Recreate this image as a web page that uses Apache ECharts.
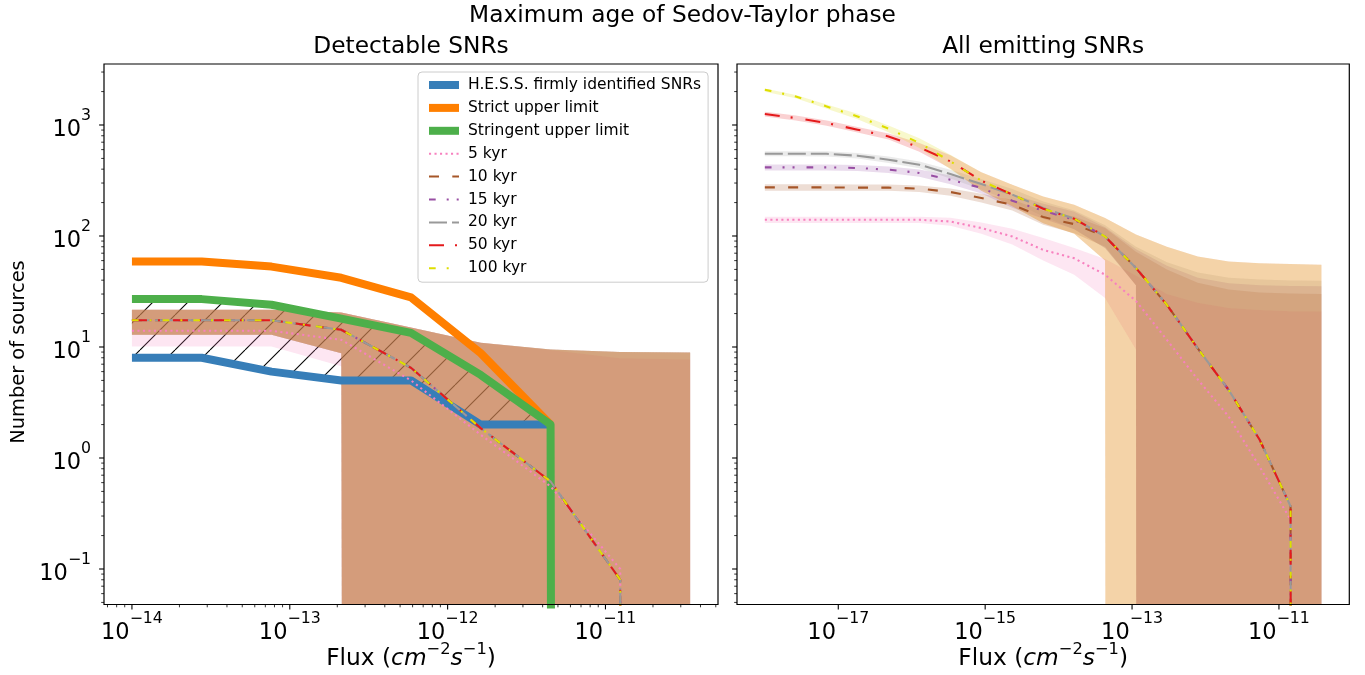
<!DOCTYPE html>
<html>
<head>
<meta charset="utf-8">
<script src="https://cdn.jsdelivr.net/npm/echarts@6/dist/echarts.min.js"></script>
<style>
  html, body { margin: 0; padding: 0; background: #ffffff; }
  #chart { width: 1365px; height: 675px; }
</style>
</head>
<body>
<div id="chart"></div>
<script>
// ---------------- data ----------------
// Flux grids (cm^-2 s^-1)
const fluxDetectable = [1.00e-14, 2.77e-14, 7.66e-14, 2.12e-13, 5.86e-13, 1.62e-12, 4.49e-12, 1.24e-11, 3.44e-11];
const fluxEmitting = [1.00e-18, 2.64e-18, 6.95e-18, 1.83e-17, 4.83e-17, 1.27e-16, 3.36e-16, 8.87e-16, 2.34e-15,
  6.17e-15, 1.63e-14, 4.29e-14, 1.13e-13, 2.98e-13, 7.85e-13, 2.07e-12, 5.46e-12, 1.44e-11, 3.79e-11];

// Observed source counts above flux (detectable panel)
const hessIdentified = [8, 8, 6, 5, 5, 2, 2];
const strictLimit = [59, 59, 53, 42, 28, 8.8, 2];
const stringentLimit = [27, 27, 24, 18, 13.4, 5.6, 2, 0];

// Simulated detectable SNRs: mean, lower and upper envelope per maximum Sedov-Taylor age
const det5 = [14.0, 14.0, 14.0, 11.6, 5.0, 1.62, 0.555, 0.10, 0];
const det5Lo = [10.1, 10.1, 10.1, 6.7, 0, 0, 0, 0, 0];
const det5Hi = [21.7, 21.7, 21.7, 20.5, 15.0, 10.9, 9.4, 7.9, 7.7];
const det10 = [17.4, 17.4, 17.4, 14.3, 6.5, 1.86, 0.615, 0.08, 0];
const det10Lo = [12.9, 12.9, 12.9, 8.8, 0, 0, 0, 0, 0];
const det10Hi = [21.7, 21.7, 21.7, 20.5, 15.0, 10.9, 9.5, 9.0, 8.9];
const det15 = [17.4, 17.4, 17.4, 14.3, 6.5, 1.86, 0.615, 0.08, 0];
const det15Lo = [12.9, 12.9, 12.9, 8.8, 0, 0, 0, 0, 0];
const det15Hi = [21.7, 21.7, 21.7, 20.5, 15.0, 10.9, 9.5, 9.0, 8.9];
const det20 = [17.4, 17.4, 17.4, 14.3, 6.5, 1.86, 0.615, 0.08, 0];
const det20Lo = [12.9, 12.9, 12.9, 8.8, 0, 0, 0, 0, 0];
const det20Hi = [21.7, 21.7, 21.7, 20.5, 15.0, 10.9, 9.5, 9.0, 8.9];
const det50 = [17.4, 17.4, 17.4, 14.3, 6.5, 1.86, 0.615, 0.08, 0];
const det50Lo = [12.9, 12.9, 12.9, 8.8, 0, 0, 0, 0, 0];
const det50Hi = [21.7, 21.7, 21.7, 20.5, 15.0, 10.9, 9.5, 9.0, 8.9];
const det100 = [17.4, 17.4, 17.4, 14.3, 6.5, 1.86, 0.615, 0.08, 0];
const det100Lo = [12.9, 12.9, 12.9, 8.8, 0, 0, 0, 0, 0];
const det100Hi = [21.7, 21.7, 21.7, 20.5, 15.0, 10.9, 9.5, 9.0, 8.9];

// Simulated emitting SNRs
const em5 = [140, 140, 140, 140, 140, 140, 135, 118, 99, 75, 63, 44.8, 26, 11.6, 5.1, 2.36, 0.835, 0.278, 0];
const em5Lo = [131, 131, 131, 131, 131, 131, 124, 105, 84, 60, 44.8, 27.6, 9.5, 0, 0, 0, 0, 0, 0];
const em5Hi = [149, 149, 149, 149, 149, 149, 146, 132, 116, 96, 78, 62, 44, 30, 25, 22.5, 21.5, 21, 20.9];
const em10 = [274, 274, 274, 273, 273, 267, 249, 220, 191, 148, 128, 99, 51.5, 24, 9.7, 4.1, 1.46, 0.367, 0];
const em10Lo = [256, 256, 256, 255, 255, 249, 230, 200, 170, 126, 106, 80, 36, 0, 0, 0, 0, 0, 0];
const em10Hi = [292, 292, 292, 291, 291, 285, 268, 240, 212, 170, 150, 118, 72, 50, 38, 33, 31, 30.3, 30];
const em15 = [415, 415, 415, 410, 396, 370, 321, 271, 208, 169, 140, 99, 51.5, 24, 9.7, 4.1, 1.46, 0.367, 0];
const em15Lo = [390, 390, 390, 385, 370, 342, 292, 242, 180, 143, 115, 78, 36, 0, 0, 0, 0, 0, 0];
const em15Hi = [440, 440, 440, 435, 422, 398, 350, 300, 238, 195, 165, 120, 76, 54, 42, 37.5, 36, 35.4, 35.2];
const em20 = [551, 551, 550, 529, 487, 439, 362, 294, 236, 179, 143, 99, 51.5, 24, 9.7, 4.1, 1.46, 0.367, 0];
const em20Lo = [522, 522, 521, 500, 455, 408, 330, 262, 205, 150, 115, 78, 36, 0, 0, 0, 0, 0, 0];
const em20Hi = [580, 580, 580, 560, 520, 470, 395, 325, 265, 205, 170, 125, 80, 58, 47, 42, 40.5, 39.8, 39.6];
const em50 = [1256, 1156, 1043, 907, 789, 629, 470, 315, 236, 176, 143, 99, 51.5, 24, 9.7, 4.1, 1.46, 0.367, 0];
const em50Lo = [1190, 1095, 985, 855, 740, 575, 405, 255, 185, 130, 105, 60, 0, 0, 0, 0, 0, 0, 0];
const em50Hi = [1315, 1215, 1100, 960, 840, 690, 535, 375, 290, 227, 191, 145, 103, 80, 65.5, 59, 56.7, 55.8, 55];
const em100 = [2080, 1810, 1470, 1195, 926, 689, 470, 315, 236, 176, 143, 99, 51.5, 24, 9.7, 4.1, 1.46, 0.367, 0];
const em100Lo = [1990, 1740, 1400, 1125, 860, 620, 400, 255, 185, 130, 105, 60, 0, 0, 0, 0, 0, 0, 0];
const em100Hi = [2130, 1860, 1530, 1260, 990, 760, 540, 375, 290, 227, 191, 145, 103, 80, 65.5, 59, 56.7, 55.8, 55];

// Axis ticks and their labels
const xTicksDetectable = [1e-14, 1e-13, 1e-12, 1e-11];
const xTickLabelsDetectable = ['\u221214', '\u221213', '\u221212', '\u221211'];
const xTicksEmitting = [1e-17, 1e-15, 1e-13, 1e-11];
const xTickLabelsEmitting = ['\u221217', '\u221215', '\u221213', '\u221211'];
const yTicks = [0.1, 1, 10, 100, 1000];
const yTickLabels = ['\u22121', '0', '1', '2', '3'];

// ---------------- styling ----------------
const FONT = '"DejaVu Sans", sans-serif';
const C = {
  blue: '#377eb8', orange: '#ff7f00', green: '#4daf4a', pink: '#f781bf', brown: '#a65628',
  purple: '#984ea3', gray: '#999999', red: '#e41a1c', yellow: '#dede00'
};
const BAND_ALPHA = 0.2;
function rgba(hex, a) {
  const n = parseInt(hex.slice(1), 16);
  return 'rgba(' + (n >> 16) + ',' + ((n >> 8) & 255) + ',' + (n & 255) + ',' + a + ')';
}
// zero counts sit far below the axis floor, so the curves drop straight out of view
const ZERO_FLOOR = 1e-300;
const pos = v => (v > 0 ? v : ZERO_FLOOR);

const X_DET = [Math.pow(10, -14.177), Math.pow(10, -10.287)];
const X_EM = [Math.pow(10, -18.379), Math.pow(10, -10.042)];
const Y_LIM = [Math.pow(10, -1.3198), Math.pow(10, 3.5495)];
const GRIDS = [
  { left: 104, top: 64, width: 614, height: 540.5 },
  { left: 737, top: 64, width: 612.3, height: 540.5 }
];

const DASH = {
  d5: [2.1, 3.4],
  d10: [10, 13.3],
  d15: [6.7, 11, 2, 8, 2, 12],
  d20: [18, 5],
  d50: [15, 11, 2, 13],
  d100: [6.7, 11, 2, 11]
};

const TICK_FS = 22.5;
const RICH_TICK = {
  b: { fontSize: TICK_FS, fontFamily: FONT, lineHeight: 34, verticalAlign: 'bottom', fill: '#000', color: '#000' },
  s: { fontSize: TICK_FS * 0.7, fontFamily: FONT, lineHeight: 15, verticalAlign: 'top', fill: '#000', color: '#000' }
};
const LABEL_FS = 23.3;
const RICH_FLUX = {
  n: { fontSize: LABEL_FS, fontFamily: FONT, lineHeight: 29, verticalAlign: 'bottom', fill: '#000' },
  i: { fontSize: LABEL_FS, fontFamily: FONT, fontStyle: 'italic', lineHeight: 29, verticalAlign: 'bottom', fill: '#000' },
  s: { fontSize: LABEL_FS * 0.7, fontFamily: FONT, lineHeight: 16, verticalAlign: 'top', fill: '#000' }
};

function hatchPattern(step) {
  const c = document.createElement('canvas');
  c.width = step; c.height = step;
  const g = c.getContext('2d');
  g.strokeStyle = '#000';
  g.lineWidth = 1.1;
  for (const k of [-step, 0, step]) {
    g.beginPath(); g.moveTo(k, step); g.lineTo(k + step, 0); g.stroke();
  }
  return c;
}

// filled region between two curves, drawn as one polygon through the axis scales
function bandSeries(gi, xs, lo, hi, fill, z) {
  return {
    type: 'custom', xAxisIndex: gi, yAxisIndex: gi, z: z, clip: true, silent: true,
    data: [[xs[0], pos(hi[0])]],
    renderItem: function (params, api) {
      const top = xs.map((x, i) => api.coord([x, pos(hi[i])]));
      const bot = xs.map((x, i) => api.coord([x, pos(lo[i])])).reverse();
      return { type: 'polygon', shape: { points: top.concat(bot) }, style: { fill: fill } };
    }
  };
}

function lineSeries(gi, name, xs, ys, color, width, dash, z) {
  return {
    type: 'line', name: name, xAxisIndex: gi, yAxisIndex: gi, z: z,
    data: ys.map((y, i) => [xs[i], pos(y)]),
    symbol: 'none', silent: true, clip: true,
    lineStyle: { color: color, width: width, type: dash || 'solid', cap: 'butt', join: width > 4 ? 'round' : 'miter' },
    itemStyle: { color: color }
  };
}

function tickSeries(gi, dir, values, len, lw, labels) {
  const xr = gi === 0 ? X_DET : X_EM;
  return {
    type: 'custom', xAxisIndex: gi, yAxisIndex: gi, z: 6, clip: false, silent: true,
    data: values.map(v => (dir === 'x' ? [v, Y_LIM[0]] : [xr[0], v])),
    renderItem: function (params, api) {
      const p = api.coord([api.value(0), api.value(1)]);
      const kids = [];
      if (dir === 'x') {
        kids.push({ type: 'line', shape: { x1: p[0], y1: p[1], x2: p[0], y2: p[1] + len }, style: { stroke: '#000', lineWidth: lw } });
        if (labels) kids.push({ type: 'text', x: p[0], y: p[1] + len + 1.5,
          style: { text: '{b|10}{s|' + labels[params.dataIndex] + '}', rich: RICH_TICK, align: 'center', verticalAlign: 'top', fill: '#000' } });
      } else {
        kids.push({ type: 'line', shape: { x1: p[0] - len, y1: p[1], x2: p[0], y2: p[1] }, style: { stroke: '#000', lineWidth: lw } });
        if (labels) kids.push({ type: 'text', x: p[0] - len - 8, y: p[1],
          style: { text: '{b|10}{s|' + labels[params.dataIndex] + '}', rich: RICH_TICK, align: 'right', verticalAlign: 'middle', fill: '#000' } });
      }
      return { type: 'group', children: kids };
    }
  };
}

function minorTicks(lim) {
  const out = [];
  for (let k = Math.floor(Math.log10(lim[0])); k <= Math.ceil(Math.log10(lim[1])); k++) {
    for (let m = 2; m <= 9; m++) {
      const v = m * Math.pow(10, k);
      if (v >= lim[0] && v <= lim[1]) out.push(v);
    }
  }
  return out;
}

function logAxis(gi, lim) {
  return {
    type: 'log', logBase: 10, gridIndex: gi, min: lim[0], max: lim[1],
    axisLine: { show: false }, axisTick: { show: false }, axisLabel: { show: false },
    splitLine: { show: false }, minorTick: { show: false }
  };
}

// ---------------- series ----------------
const series = [];
const nHatch = hessIdentified.length;
series.push(bandSeries(0, fluxDetectable.slice(0, nHatch), hessIdentified, stringentLimit.slice(0, nHatch),
  { image: hatchPattern(35), repeat: 'repeat' }, 1));

const models = [
  ['5 kyr', C.pink, DASH.d5, det5, det5Lo, det5Hi, em5, em5Lo, em5Hi],
  ['10 kyr', C.brown, DASH.d10, det10, det10Lo, det10Hi, em10, em10Lo, em10Hi],
  ['15 kyr', C.purple, DASH.d15, det15, det15Lo, det15Hi, em15, em15Lo, em15Hi],
  ['20 kyr', C.gray, DASH.d20, det20, det20Lo, det20Hi, em20, em20Lo, em20Hi],
  ['50 kyr', C.red, DASH.d50, det50, det50Lo, det50Hi, em50, em50Lo, em50Hi],
  ['100 kyr', C.yellow, DASH.d100, det100, det100Lo, det100Hi, em100, em100Lo, em100Hi]
];
models.forEach(m => {
  series.push(bandSeries(0, fluxDetectable, m[4], m[5], rgba(m[1], BAND_ALPHA), 2));
  series.push(bandSeries(1, fluxEmitting, m[7], m[8], rgba(m[1], BAND_ALPHA), 2));
});

series.push(lineSeries(0, 'H.E.S.S. firmly identified SNRs', fluxDetectable, hessIdentified, C.blue, 8, null, 3));
series.push(lineSeries(0, 'Strict upper limit', fluxDetectable, strictLimit, C.orange, 8, null, 3));
series.push(lineSeries(0, 'Stringent upper limit', fluxDetectable, stringentLimit, C.green, 8, null, 3));

models.forEach(m => {
  series.push(lineSeries(0, m[0], fluxDetectable, m[3], m[1], 2.1, m[2], 4));
  series.push(lineSeries(1, m[0], fluxEmitting, m[6], m[1], 2.1, m[2], 4));
});

series.push(tickSeries(0, 'x', xTicksDetectable, 4.9, 1.1, xTickLabelsDetectable));
series.push(tickSeries(0, 'x', minorTicks(X_DET), 2.8, 0.8, null));
series.push(tickSeries(1, 'x', xTicksEmitting, 4.9, 1.1, xTickLabelsEmitting));
series.push(tickSeries(0, 'y', yTicks, 4.9, 1.1, yTickLabels));
series.push(tickSeries(0, 'y', minorTicks(Y_LIM), 2.8, 0.8, null));
series.push(tickSeries(1, 'y', yTicks, 4.9, 1.1, null));
series.push(tickSeries(1, 'y', minorTicks(Y_LIM), 2.8, 0.8, null));

// ---------------- text & frames ----------------
const fluxTitle = '{n|Flux (}{i|cm}{s|\u22122}{i|s}{s|\u22121}{n|)}';
const graphic = [
  { type: 'text', x: 682.5, y: 16, z: 100, silent: true,
    style: { text: 'Maximum age of Sedov-Taylor phase', font: '23.3px ' + FONT, fill: '#000', align: 'center', verticalAlign: 'middle' } },
  { type: 'text', x: GRIDS[0].left + GRIDS[0].width / 2, y: 47, z: 100, silent: true,
    style: { text: 'Detectable SNRs', font: '23.3px ' + FONT, fill: '#000', align: 'center', verticalAlign: 'middle' } },
  { type: 'text', x: GRIDS[1].left + GRIDS[1].width / 2, y: 47, z: 100, silent: true,
    style: { text: 'All emitting SNRs', font: '23.3px ' + FONT, fill: '#000', align: 'center', verticalAlign: 'middle' } },
  { type: 'text', x: GRIDS[0].left + GRIDS[0].width / 2, y: 656, z: 100, silent: true,
    style: { text: fluxTitle, rich: RICH_FLUX, align: 'center', verticalAlign: 'middle' } },
  { type: 'text', x: GRIDS[1].left + GRIDS[1].width / 2, y: 656, z: 100, silent: true,
    style: { text: fluxTitle, rich: RICH_FLUX, align: 'center', verticalAlign: 'middle' } },
  { type: 'text', x: 19, y: 352, rotation: Math.PI / 2, z: 100, silent: true,
    style: { text: 'Number of sources', font: '19.4px ' + FONT, fill: '#000', align: 'center', verticalAlign: 'middle' } }
];
GRIDS.forEach(g => graphic.push({ type: 'rect', z: 100, silent: true,
  shape: { x: g.left, y: g.top, width: g.width, height: g.height },
  style: { fill: 'none', stroke: '#000', lineWidth: 1.2 } }));

const thick = { width: 8, type: 'solid' };
const option = {
  animation: false,
  backgroundColor: '#ffffff',
  textStyle: { fontFamily: FONT },
  grid: GRIDS,
  xAxis: [logAxis(0, X_DET), logAxis(1, X_EM)],
  yAxis: [logAxis(0, Y_LIM), logAxis(1, Y_LIM)],
  legend: {
    left: 418, top: 72, orient: 'vertical', selectedMode: false, z: 10,
    padding: [5, 7, 6, 7], itemGap: 6.9, itemWidth: 30, itemHeight: 14,
    backgroundColor: 'rgba(255,255,255,0.8)', borderColor: '#cccccc', borderWidth: 1, borderRadius: 4,
    itemStyle: { opacity: 0 },
    textStyle: { fontFamily: FONT, fontSize: 15.5, color: '#000', lineHeight: 16, padding: [0, 0, 0, 4] },
    data: [
      { name: 'H.E.S.S. firmly identified SNRs', lineStyle: thick },
      { name: 'Strict upper limit', lineStyle: thick },
      { name: 'Stringent upper limit', lineStyle: thick },
      { name: '5 kyr' }, { name: '10 kyr' }, { name: '15 kyr' },
      { name: '20 kyr' }, { name: '50 kyr' }, { name: '100 kyr' }
    ]
  },
  graphic: graphic,
  series: series
};

const chart = echarts.init(document.getElementById('chart'), null, { renderer: 'canvas' });
chart.setOption(option);
</script>
</body>
</html>
